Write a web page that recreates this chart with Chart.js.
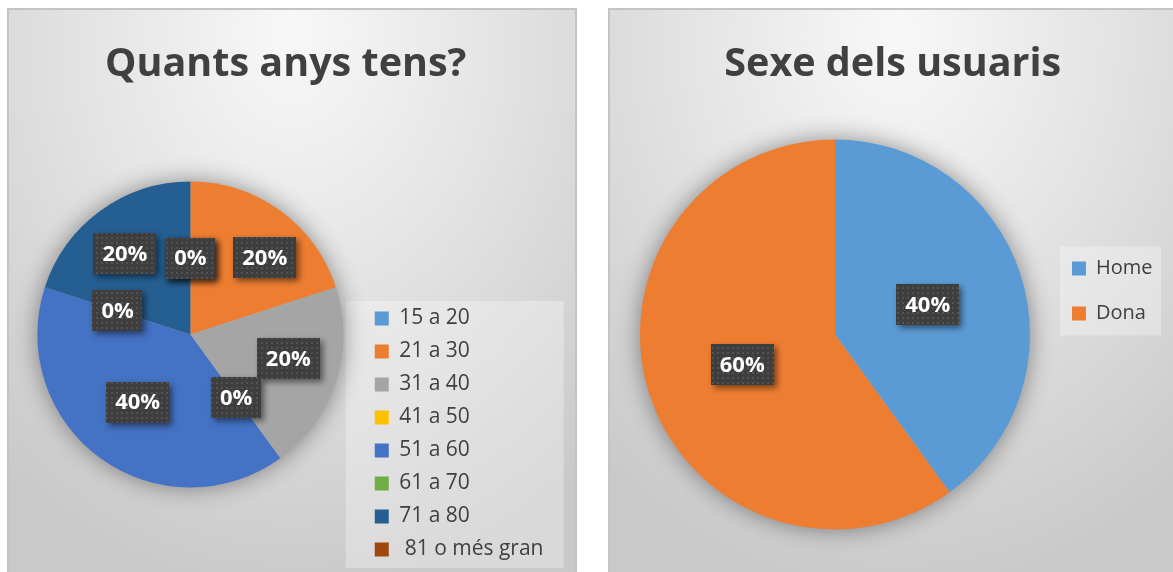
<!DOCTYPE html>
<html>
<head>
<meta charset="utf-8">
<script src="https://cdn.jsdelivr.net/npm/chart.js@4.4.1/dist/chart.umd.min.js"></script>
<style>
  html, body { margin: 0; padding: 0; background: #fff; width: 1173px; height: 572px; overflow: hidden; }
  .panel {
    position: absolute; top: 8px; height: 600px; box-sizing: border-box;
    border: 2px solid #c4c4c4;
    background: radial-gradient(ellipse 80% 95% at 50% 4%, #f8f8f8 0%, #e4e4e4 45%, #c9c9c9 100%);
  }
  #p1 { left: 7px; width: 570px; }
  #p2 { left: 608px; width: 580px; }
  canvas { position: absolute; left: 0; top: 0; }
</style>
</head>
<body>
<div class="panel" id="p1"><canvas id="ages" width="566" height="562"></canvas></div>
<div class="panel" id="p2"><canvas id="sexe" width="563" height="562"></canvas></div>
<script>
// Quants anys tens? (percent of answers)
var ageLabels = ['15 a 20', '21 a 30', '31 a 40', '41 a 50', '51 a 60', '61 a 70', '71 a 80', ' 81 o més gran'];
var agePct    = [0, 20, 20, 0, 40, 0, 20, 0];
var ageColors = ['#5B9BD5', '#ED7D31', '#A5A5A5', '#FFC000', '#4472C4', '#70AD47', '#255E91', '#9E480E'];

// Sexe dels usuaris
var sexLabels = ['Home', 'Dona'];
var sexPct    = [40, 60];
var sexColors = ['#5B9BD5', '#ED7D31'];

var TEXT = '#404040';
var FONT = '"Open Sans", "Noto Sans", sans-serif';

// dotted dark fill used by the data label boxes
var tile = document.createElement('canvas');
tile.width = tile.height = 5;
(function () {
  var c = tile.getContext('2d');
  c.fillStyle = '#3e3e3e';
  c.fillRect(0, 0, 5, 5);
  c.fillStyle = '#525252';
  c.fillRect(2, 2, 2, 2);
})();

var pieDecor = {
  id: 'pieDecor',
  beforeDraw: function (chart, args, opts) {
    var boxes = chart.legend.legendHitBoxes;
    if (!boxes || !boxes.length) return;
    var b = opts.legendBox, ctx = chart.ctx;
    ctx.save();
    ctx.fillStyle = 'rgba(255,255,255,0.3)';
    ctx.fillRect(boxes[0].left + b.x, boxes[0].top + b.y, b.w, b.h);
    ctx.restore();
  },
  beforeDatasetsDraw: function (chart) {
    var p = chart.getDatasetMeta(0).data[0].getProps(['x', 'y', 'outerRadius'], true);
    var ctx = chart.ctx;
    ctx.save();
    ctx.shadowColor = 'rgba(0,0,0,0.45)';
    ctx.shadowBlur = 24;
    ctx.fillStyle = '#b0b0b0';
    ctx.beginPath();
    ctx.arc(p.x, p.y, p.outerRadius - 1, 0, Math.PI * 2);
    ctx.fill();
    ctx.restore();
  },
  afterDatasetsDraw: function (chart, args, opts) {
    var ctx = chart.ctx;
    var values = chart.data.datasets[0].data;
    var total = values.reduce(function (a, b) { return a + b; }, 0);
    var pattern = ctx.createPattern(tile, 'repeat');
    ctx.save();
    ctx.font = 'bold 22px ' + FONT;
    ctx.textAlign = 'center';
    ctx.textBaseline = 'middle';
    chart.getDatasetMeta(0).data.forEach(function (arc, i) {
      var p = arc.getProps(['x', 'y', 'startAngle', 'endAngle', 'outerRadius'], true);
      var a = (p.startAngle + p.endAngle) / 2 + (opts.nudge[i] || 0) * Math.PI / 180;
      var d = p.outerRadius * opts.dist[i];
      var cx = p.x + Math.cos(a) * d, cy = p.y + Math.sin(a) * d;
      var text = Math.round(values[i] / total * 100) + '%';
      var w = ctx.measureText(text).width + 18, h = 41;
      ctx.save();
      ctx.shadowColor = 'rgba(0,0,0,0.5)';
      ctx.shadowBlur = 6;
      ctx.shadowOffsetX = 3;
      ctx.shadowOffsetY = 3;
      ctx.fillStyle = pattern;
      ctx.fillRect(Math.round(cx - w / 2), Math.round(cy - h / 2), Math.round(w), h);
      ctx.restore();
      ctx.fillStyle = '#ffffff';
      ctx.fillText(text, cx, cy + 1);
    });
    ctx.restore();
  }
};

function titleOpts(text) {
  return {
    display: true,
    text: text,
    color: TEXT,
    font: { family: FONT, size: 39.5, weight: 'bold', lineHeight: 1.2 },
    padding: { top: 31.3, bottom: 8.3 }
  };
}

function legendOpts(align, size, gap) {
  return {
    position: 'right',
    align: align,
    labels: {
      boxWidth: 14,
      boxHeight: 14,
      padding: gap,
      color: TEXT,
      font: { family: FONT, size: size }
    }
  };
}

new Chart(document.getElementById('ages'), {
  type: 'pie',
  data: {
    labels: ageLabels,
    datasets: [{ data: agePct, backgroundColor: ageColors, borderWidth: 0, clip: false }]
  },
  options: {
    responsive: false,
    animation: false,
    radius: 153,
    layout: { padding: { left: 9, right: 21.5, top: 0, bottom: 0 } },
    plugins: {
      title: titleOpts('Quants anys tens?'),
      legend: legendOpts('end', 21, 12),
      tooltip: { enabled: false },
      pieDecor: {
        dist:  [0.5, 0.7, 0.66, 0.51, 0.56, 0.5, 0.68, 0.5],
        nudge: [0, 8, -4, 0, 2, 0, -3, 0],
        legendBox: { x: -29, y: -7, w: 218, h: 267 }
      }
    }
  },
  plugins: [pieDecor]
});

new Chart(document.getElementById('sexe'), {
  type: 'pie',
  data: {
    labels: sexLabels,
    datasets: [{ data: sexPct, backgroundColor: sexColors, borderWidth: 0, clip: false }]
  },
  options: {
    responsive: false,
    animation: false,
    radius: 195,
    layout: { padding: { left: 13, right: 10.5, top: 0, bottom: 0 } },
    plugins: {
      title: titleOpts('Sexe dels usuaris'),
      legend: legendOpts('center', 20, 25),
      tooltip: { enabled: false },
      pieDecor: {
        dist:  [0.5, 0.5],
        nudge: [0, 0],
        legendBox: { x: -12, y: -12, w: 101, h: 89 }
      }
    }
  },
  plugins: [pieDecor]
});
</script>
</body>
</html>
